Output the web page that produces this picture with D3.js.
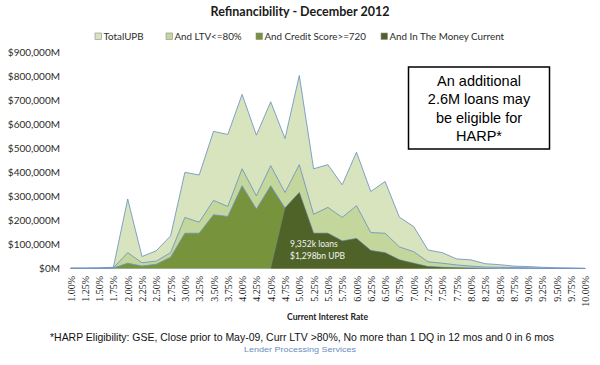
<!DOCTYPE html>
<html>
<head>
<meta charset="utf-8">
<script src="https://cdn.jsdelivr.net/npm/d3@7"></script>
<style>
  html, body { margin: 0; padding: 0; background: #fff; }
  svg { display: block; }
</style>
</head>
<body>
<svg id="chart" width="600" height="365"></svg>
<script>
// ---- data ($M) ----
const rates = ["1.00%","1.25%","1.50%","1.75%","2.00%","2.25%","2.50%","2.75%","3.00%","3.25%",
  "3.50%","3.75%","4.00%","4.25%","4.50%","4.75%","5.00%","5.25%","5.50%","5.75%",
  "6.00%","6.25%","6.50%","6.75%","7.00%","7.25%","7.50%","7.75%","8.00%","8.25%",
  "8.50%","8.75%","9.00%","9.25%","9.50%","9.75%","10.00%"];
const totalUPB = [2000,2000,3000,5000,290000,50000,74000,136000,401000,390000,
  572000,559000,726000,556000,695000,542000,805000,416000,433000,349000,
  485000,321000,363000,214000,175000,77000,66000,40000,36000,20000,
  16000,10000,8000,5000,3000,2000,1000];
const ltv80 = [1000,1000,1000,3000,66000,24000,31000,66000,213000,193000,
  284000,259000,416000,303000,429000,317000,433000,226000,255000,213000,
  262000,150000,147000,90000,70000,28000,22000,15000,10000,6000,
  5000,4000,3000,2000,1000,1000,0];
const credit720 = [500,500,500,2000,22000,10000,18000,47000,147000,147000,
  224000,217000,345000,248000,345000,252000,317000,147000,147000,115000,
  125000,75000,66000,36000,22000,8000,5000,3000,2000,1000,
  500,500,0,0,0,0,0];
const inTheMoney = [0,0,0,0,0,0,0,0,0,0,
  0,0,0,0,0,252000,317000,147000,147000,115000,
  125000,75000,66000,36000,22000,8000,5000,3000,2000,1000,
  500,500,0,0,0,0,0];
const seriesNames = ["TotalUPB","And LTV<=80%","And Credit Score>=720","And In The Money Current"];
const yTicks = [0,100000,200000,300000,400000,500000,600000,700000,800000,900000];
const title = "Refinancibility - December 2012";
const xTitle = "Current Interest Rate";
const boxLines = ["An additional","2.6M loans may","be eligible for","HARP*"];
const innerLabel = ["9,352k loans","$1,298bn UPB"];
const footnote = "*HARP Eligibility: GSE, Close prior to May-09, Curr LTV >80%, No more than 1 DQ in 12 mos and 0 in 6 mos";
const source = "Lender Processing Services";

// ---- layout ----
const svg = d3.select("#chart");
const colors = ["#d7e4bd","#c3d69b","#77933c","#4f6228"];
const seriesData = [totalUPB, ltv80, credit720, inTheMoney];

const x = d3.scalePoint().domain(rates).range([70.5, 585.3]);
const y = d3.scaleLinear().domain([0, 900000]).range([268.5, 52.7]);

// title
svg.append("text").attr("x", 300).attr("y", 16)
  .attr("text-anchor", "middle")
  .style("font-family", "Lato, 'Open Sans', sans-serif")
  .style("font-weight", "bold").style("font-size", "12.5px").style("fill", "#1a1a1a")
  .text(title);

// legend
const legendX = [95, 166, 256, 381];
const lg = svg.append("g");
seriesNames.forEach((n, i) => {
  lg.append("rect").attr("x", legendX[i]).attr("y", 33).attr("width", 6.5).attr("height", 6.5)
    .attr("fill", colors[i]).attr("stroke", "#8c8c8c").attr("stroke-width", 0.6);
  lg.append("text").attr("x", legendX[i] + 8.5).attr("y", 40)
    .style("font-family", "Lato, sans-serif").style("font-size", "9.8px").style("fill", "#2b2b2b")
    .text(n);
});

// y axis labels
const yAxis = d3.axisLeft(y).tickValues(yTicks).tickSize(0).tickPadding(0)
  .tickFormat(d => "$" + d3.format(",")(d) + "M");
const ya = svg.append("g").attr("transform", "translate(60,0)").call(yAxis);
ya.select(".domain").remove();
ya.selectAll("text").style("font-family", "Lato, sans-serif").style("font-size", "10px").style("fill", "#2b2b2b");

// areas + outlines
const area = d3.area().x((d, i) => x(rates[i])).y0(y(0)).y1(d => y(d));
const line = d3.line().x((d, i) => x(rates[i])).y(d => y(d));
seriesData.forEach((s, k) => {
  svg.append("path").datum(s).attr("d", area).attr("fill", colors[k]);
  svg.append("path").datum(s).attr("d", line).attr("fill", "none")
    .attr("stroke", "#6f92c4").attr("stroke-width", k === 3 ? 0.6 : 1)
    .attr("stroke-opacity", k === 3 ? 0.5 : 0.85);
});

// x axis labels
const xAxis = d3.axisBottom(x).tickSize(0).tickPadding(0);
const xa = svg.append("g").attr("transform", "translate(0," + y(0) + ")").call(xAxis);
xa.select(".domain").remove();
xa.selectAll("text")
  .attr("transform", "rotate(-90)")
  .attr("text-anchor", "end")
  .attr("x", -7.5).attr("y", 0).attr("dy", "0.35em")
  .style("font-family", "'Liberation Serif', 'DejaVu Serif', serif")
  .style("font-size", "10px").style("fill", "#222");

// x title
svg.append("text").attr("x", 287).attr("y", 320)
  .attr("textLength", 81).attr("lengthAdjust", "spacingAndGlyphs")
  .style("font-family", "Lato, sans-serif").style("font-weight", "bold")
  .style("font-size", "8.5px").style("fill", "#222").text(xTitle);

// inner label
innerLabel.forEach((t, i) => {
  svg.append("text").attr("x", 290).attr("y", 247 + i * 12)
    .style("font-family", "Lato, sans-serif").style("font-size", "8.5px")
    .style("fill", "#f4f4f4").text(t);
});

// annotation box
svg.append("rect").attr("x", 408.5).attr("y", 67).attr("width", 141).attr("height", 82)
  .attr("fill", "#fff").attr("stroke", "#000").attr("stroke-width", 1.5);
boxLines.forEach((t, i) => {
  svg.append("text").attr("x", 479).attr("y", 86 + i * 18.4).attr("text-anchor", "middle")
    .style("font-family", "'Liberation Sans', Arial, sans-serif").style("font-size", "14.5px")
    .style("fill", "#000").text(t);
});

// footnote
svg.append("text").attr("x", 50).attr("y", 340.5)
  .attr("textLength", 504).attr("lengthAdjust", "spacingAndGlyphs")
  .style("font-family", "'Liberation Sans', Arial, sans-serif").style("font-size", "11px")
  .style("fill", "#111").text(footnote);
svg.append("text").attr("x", 244).attr("y", 351.5)
  .attr("textLength", 112).attr("lengthAdjust", "spacingAndGlyphs")
  .style("font-family", "'Liberation Sans', Arial, sans-serif").style("font-size", "8px")
  .style("fill", "#6a8cc0").text(source);
</script>
</body>
</html>
